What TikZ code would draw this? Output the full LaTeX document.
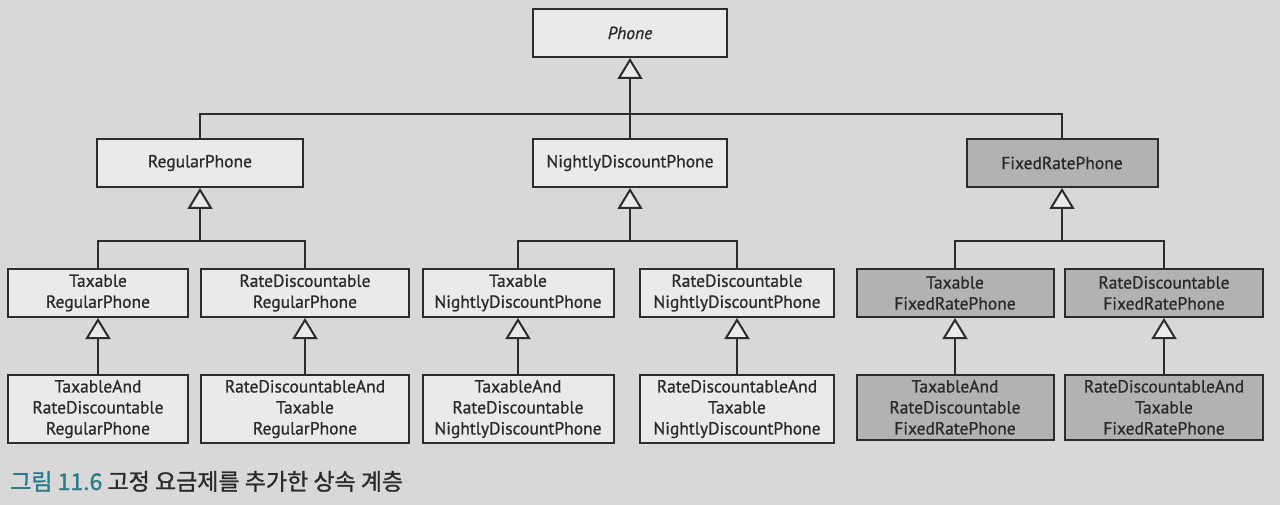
\documentclass[tikz,border=0pt]{standalone}
\usepackage{fontspec}
\setmainfont{PT Sans}
\newfontfamily\boxfont{PT Sans}[FakeBold=0.8]
\newfontfamily\kofont{Noto Sans CJK KR}[FakeBold=1]
\usetikzlibrary{positioning,arrows.meta}

\definecolor{paper}{HTML}{D8D8D8}
\definecolor{boxlight}{HTML}{EAEAEA}
\definecolor{boxdark}{HTML}{B2B2B2}
\definecolor{linecol}{HTML}{2C2C2C}
\definecolor{textcol}{HTML}{2A2A2A}
\definecolor{captionblue}{HTML}{2B7A8C}

\tikzset{
  cls/.style={draw=linecol, line width=2pt, fill=boxlight, text=textcol, align=center,
    minimum width=194pt, minimum height=48pt, inner ysep=5pt,
    font=\boxfont\fontsize{17.5}{21}\selectfont},
  fixedcls/.style={cls, fill=boxdark},
  link/.style={draw=linecol, line width=2pt},
  inherit/.style={link, -{Triangle[length=21pt, width=25pt, fill=boxlight]}},
}

\begin{document}
\begin{tikzpicture}[x=1pt, y=-1pt, node distance=80pt]
\fill[paper] (0,0) rectangle (1280,505);
\useasboundingbox (0,0) rectangle (1280,505);

%% top class
\node[cls, font=\boxfont\fontsize{17.5}{21}\selectfont\itshape] (phone) at (630,33) {Phone};

%% second level
\node[cls, below=of phone, xshift=-430pt, minimum width=206pt](regular){RegularPhone};
\node[cls, below=of phone](nightly){NightlyDiscountPhone};
\node[fixedcls, below=of phone, xshift=432pt, minimum width=191pt](fixedrate){FixedRatePhone};

\coordinate[below=56pt of phone.south](bus_phone);

\draw[inherit] (bus_phone) -- (phone.south);
\draw[link] (regular.north) |- (bus_phone) -| (fixedrate.north);
\draw[link] (nightly.north) -- (bus_phone);

%% REGULAR
\node[cls, below=of regular, xshift=-102pt, minimum width=180pt](tax_reg){Taxable\\RegularPhone};
\node[cls, below=of regular, xshift=105pt, minimum width=208pt](rate_reg){RateDiscountable\\RegularPhone};
\node[cls, below=56pt of tax_reg, minimum width=180pt](taxrate_reg){TaxableAnd\\RateDiscountable\\RegularPhone};
\node[cls, below=56pt of rate_reg, minimum width=208pt](ratetax_reg){RateDiscountableAnd\\Taxable\\RegularPhone};

\coordinate[below=53pt of regular.south](bus_regular);
\draw[inherit] (bus_regular) -- (regular.south);
\draw[link] (tax_reg.north) |- (bus_regular) -| (rate_reg.north);
\draw[inherit] (taxrate_reg.north) -- (tax_reg.south);
\draw[inherit] (ratetax_reg.north) -- (rate_reg.south);

%% NIGHTLY DISCOUNT
\node[cls, below=of nightly, xshift=-112pt, minimum width=191pt](tax_night){Taxable\\NightlyDiscountPhone};
\node[cls, below=of nightly, xshift=107pt](rate_night){RateDiscountable\\NightlyDiscountPhone};
\node[cls, below=56pt of tax_night, minimum width=191pt](taxrate_night){TaxableAnd\\RateDiscountable\\NightlyDiscountPhone};
\node[cls, below=56pt of rate_night](ratetax_night){RateDiscountableAnd\\Taxable\\NightlyDiscountPhone};

\coordinate[below=53pt of nightly.south](bus_nightly);
\draw[inherit] (bus_nightly) -- (nightly.south);
\draw[link] (tax_night.north) |- (bus_nightly) -| (rate_night.north);
\draw[inherit] (taxrate_night.north) -- (tax_night.south);
\draw[inherit] (ratetax_night.north) -- (rate_night.south);

%% FIXED RATE
\node[fixedcls, below=of fixedrate, xshift=-107pt, minimum width=197pt](tax_fixed){Taxable\\FixedRatePhone};
\node[fixedcls, below=of fixedrate, xshift=102pt, minimum width=198pt](rate_fixed){RateDiscountable\\FixedRatePhone};
\node[fixedcls, below=56pt of tax_fixed, minimum width=197pt](taxrate_fixed){TaxableAnd\\RateDiscountable\\FixedRatePhone};
\node[fixedcls, below=56pt of rate_fixed, minimum width=198pt](ratetax_fixed){RateDiscountableAnd\\Taxable\\FixedRatePhone};

\coordinate[below=53pt of fixedrate.south](bus_fixed);
\draw[inherit] (bus_fixed) -- (fixedrate.south);
\draw[link] (tax_fixed.north) |- (bus_fixed) -| (rate_fixed.north);
\draw[inherit] (taxrate_fixed.north) -- (tax_fixed.south);
\draw[inherit] (ratetax_fixed.north) -- (rate_fixed.south);

% caption
\node[anchor=base west, inner sep=0pt, text=textcol, font=\kofont\fontsize{23}{26}\selectfont] (caption) at (10,490)
  {{\color{captionblue}그림 11.6} 고정 요금제를 추가한 상속 계층};

\end{tikzpicture}
\end{document}
